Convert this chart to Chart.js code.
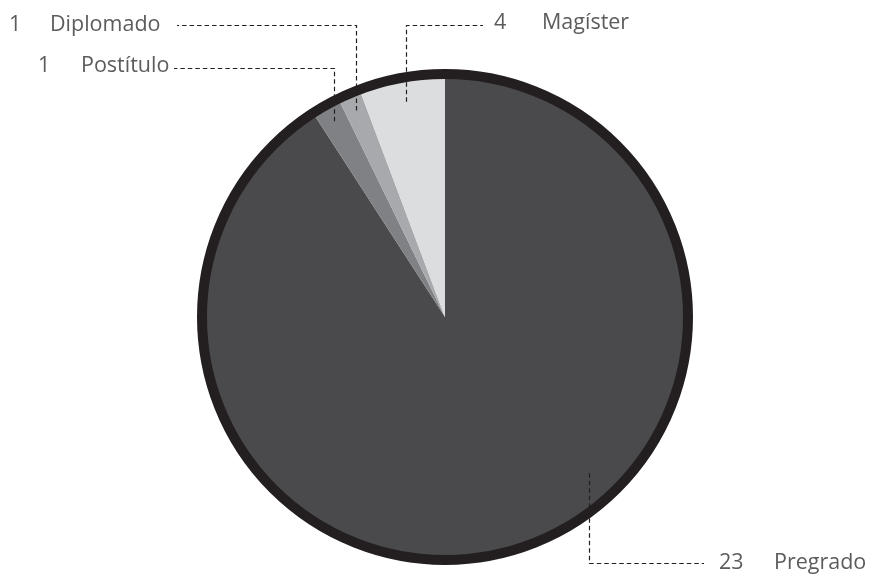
<!DOCTYPE html>
<html>
<head>
<meta charset="utf-8">
<script src="https://cdn.jsdelivr.net/npm/chart.js@4"></script>
<style>
  html, body { margin: 0; padding: 0; background: #ffffff; }
  #wrap { width: 869px; height: 578px; }
</style>
</head>
<body>
<div id="wrap"><canvas id="c" width="869" height="578"></canvas></div>
<script>
// Categories (clockwise from top)
const categories = ["Pregrado", "Postítulo", "Diplomado", "Magíster"];
// Counts printed beside each label
const counts = [23, 1, 1, 4];
// Slice sizes as drawn in the picture (degrees of the circle)
const sliceDegrees = [327.1, 6.85, 5.45, 20.6];
// Slice colours
const sliceColors = ["#4a4a4c", "#808184", "#a7a9ac", "#dcdddf"];

// Label layout (style only): text positions and leader routing
const labelLayout = [
  { numX: 719, nameX: 774, baseY: 569, lineY: 563, lineEndX: 704, anchorAngle: 137.3, anchorR: 0.875 },
  { numX: 38,  nameX: 81,  baseY: 72,  lineY: 68,  lineEndX: 174, anchorAngle: null,  anchorR: 0.925 },
  { numX: 9,   nameX: 50,  baseY: 31,  lineY: 25,  lineEndX: 177, anchorAngle: null,  anchorR: 0.925 },
  { numX: 494, nameX: 542, baseY: 29,  lineY: 25,  lineEndX: 483, anchorAngle: null,  anchorR: 0.90 }
];

const FONT = '21.5px "Open Sans", "Noto Sans", sans-serif';
const TEXT_COLOR = '#5b5c5e';
const LINE_COLOR = '#231f20';

const rimPlugin = {
  id: 'rim',
  afterDatasetsDraw(chart) {
    const meta = chart.getDatasetMeta(0);
    const arc0 = meta.data[0];
    if (!arc0) return;
    const ctx = chart.ctx;
    const cx = arc0.x, cy = arc0.y, R = arc0.outerRadius;
    ctx.save();
    ctx.beginPath();
    ctx.arc(cx, cy, R, 0, Math.PI * 2);
    ctx.lineWidth = 10;
    ctx.strokeStyle = LINE_COLOR;
    ctx.stroke();
    ctx.restore();

    // leader lines + labels
    ctx.save();
    ctx.font = FONT;
    ctx.fillStyle = TEXT_COLOR;
    ctx.textAlign = 'left';
    ctx.textBaseline = 'alphabetic';
    meta.data.forEach((arc, i) => {
      const L = labelLayout[i];
      let ang;
      if (L.anchorAngle !== null) {
        ang = -Math.PI / 2 + L.anchorAngle * Math.PI / 180;
      } else {
        ang = (arc.startAngle + arc.endAngle) / 2;
      }
      const ax = cx + Math.cos(ang) * R * L.anchorR;
      const ay = cy + Math.sin(ang) * R * L.anchorR;
      ctx.beginPath();
      ctx.setLineDash([4.5, 3]);
      ctx.lineWidth = 1.2;
      ctx.strokeStyle = LINE_COLOR;
      ctx.moveTo(Math.round(ax) + 0.5, ay);
      ctx.lineTo(Math.round(ax) + 0.5, L.lineY + 0.5);
      ctx.lineTo(L.lineEndX, L.lineY + 0.5);
      ctx.stroke();
      ctx.setLineDash([]);
      ctx.fillText(String(counts[i]), L.numX, L.baseY);
      ctx.fillText(categories[i], L.nameX, L.baseY);
    });
    ctx.restore();
  }
};

new Chart(document.getElementById('c'), {
  type: 'pie',
  data: {
    labels: categories,
    datasets: [{
      data: sliceDegrees,
      backgroundColor: sliceColors,
      borderWidth: 0,
      hoverOffset: 0
    }]
  },
  options: {
    responsive: false,
    animation: false,
    events: [],
    layout: { padding: { top: 74, bottom: 18, left: 202, right: 181 } },
    plugins: {
      legend: { display: false },
      tooltip: { enabled: false }
    }
  },
  plugins: [rimPlugin]
});
</script>
</body>
</html>
